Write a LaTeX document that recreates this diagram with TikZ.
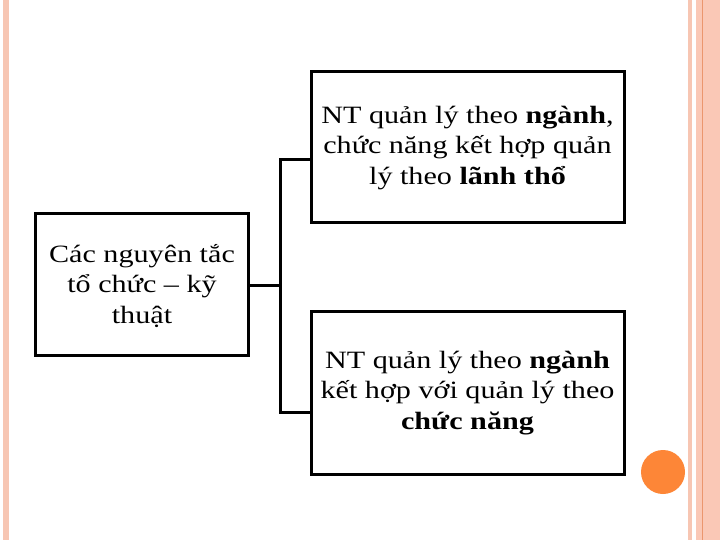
\documentclass[tikz,border=0pt]{standalone}
\usepackage{fontspec}
\setmainfont{Liberation Serif}[FakeStretch=1.21]
\begin{document}
\begin{tikzpicture}[x=1bp,y=-1bp,
  box/.style={draw=black,line width=3bp,minimum width=#1,align=center,inner sep=0pt},
  txt/.style={font=\fontsize{25}{30.5}\selectfont},
  conn/.style={draw=black,line width=3bp}]
\useasboundingbox (0,0) rectangle (720,540);
\fill[white] (0,0) rectangle (720,540);
% decorative borders
\fill[fill={rgb,255:red,247;green,198;blue,179}] (3,0) rectangle (9,540);
\fill[fill={rgb,255:red,247;green,198;blue,179}] (688,0) rectangle (692,540);
\fill[fill={rgb,255:red,250;green,200;blue,182}] (695.5,0) rectangle (720,540);
\draw[draw={rgb,255:red,235;green,150;blue,110},line width=1bp] (702.5,0) -- (702.5,540);
\fill[fill={rgb,255:red,253;green,134;blue,55}] (663,472) circle (22);
% boxes
\node[box=212bp,minimum height=141bp] (L) at (142,284.5) {};
\node[box=313bp,minimum height=150bp] (T) at (467.5,147) {};
\node[box=313bp,minimum height=162bp] (B) at (467.5,393) {};
\node[txt,align=center] (Lt) at (142,286) {Các nguyên tắc\\tổ chức – kỹ\\thuật};
\node[txt,align=center] (Tt) at (467.5,148) {NT quản lý theo \textbf{ngành},\\chức năng kết hợp quản\\lý theo \textbf{lãnh thổ}};
\node[txt,align=center] (Bt) at (467.5,393) {NT quản lý theo \textbf{ngành}\\kết hợp với quản lý theo\\\textbf{chức năng}};
% connectors
\coordinate (J) at (280,285);
\coordinate (J1) at (280,160);
\coordinate (J2) at (280,412);
\draw[conn] (L.east |- J) -- (J);
\draw[conn,line cap=rect] (T.west |- J1) -- (J1) -- (J2) -- (B.west |- J2);
\end{tikzpicture}
\end{document}
